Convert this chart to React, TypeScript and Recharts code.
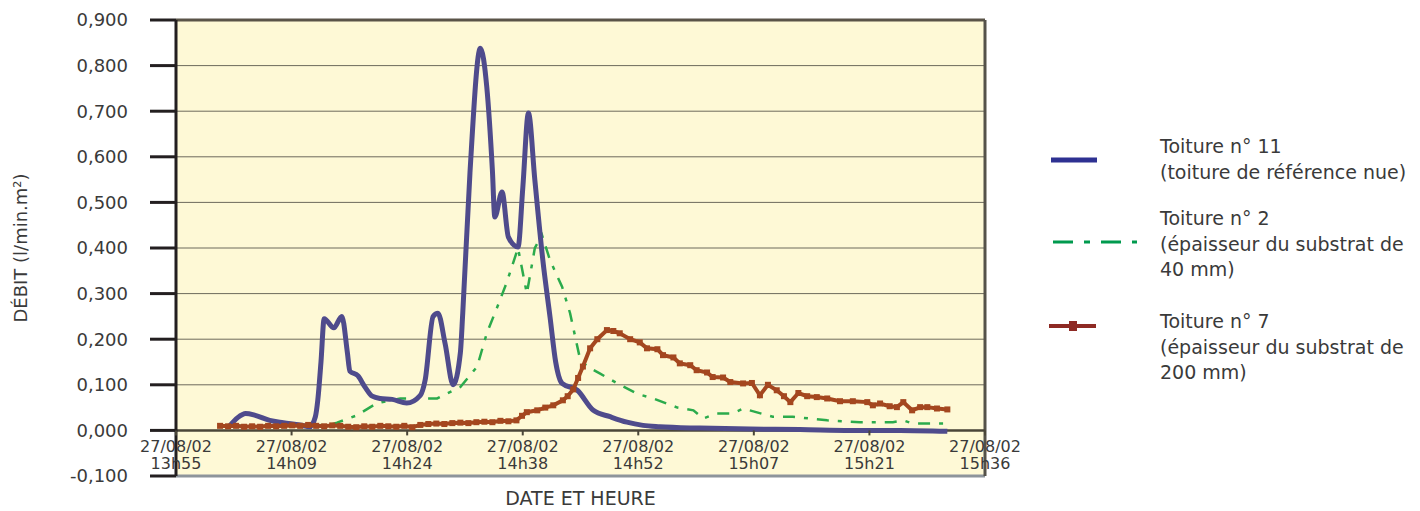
import { LineChart, Line, XAxis, YAxis, CartesianGrid, ReferenceLine } from 'recharts';

// minutes after 13h55
const BLUE_T = [6.7, 7.7, 8.7, 9.9, 11.7, 13.4, 15.5, 16.7, 17.4, 17.7, 18.1, 18.5, 19.7, 20.7, 21.4, 21.7, 22.7, 23.6, 24.5, 25.5, 27.0, 28.8, 30.5, 31.1, 32.1, 32.7, 33.6, 34.6, 35.5, 35.8, 36.7, 38.0, 38.8, 39.5, 39.8, 40.7, 41.5, 42.7, 43.3, 44.0, 44.8, 45.8, 46.7, 47.4, 48.2, 50.1, 52.1, 54.2, 56.3, 58.3, 60.4, 65.4, 71.7, 77.9, 84.2, 90.4, 96.3];
const BLUE_V = [0.010, 0.028, 0.037, 0.033, 0.022, 0.017, 0.012, 0.008, 0.030, 0.066, 0.150, 0.245, 0.225, 0.250, 0.170, 0.130, 0.120, 0.095, 0.075, 0.070, 0.068, 0.060, 0.077, 0.110, 0.250, 0.257, 0.190, 0.100, 0.170, 0.257, 0.565, 0.838, 0.753, 0.570, 0.468, 0.523, 0.424, 0.402, 0.533, 0.696, 0.549, 0.373, 0.248, 0.150, 0.103, 0.088, 0.044, 0.030, 0.018, 0.011, 0.008, 0.005, 0.003, 0.002, 0.000, 0.000, -0.002];

const GREEN_T = [6.7, 13.0, 19.2, 20.1, 22.6, 25.1, 28.0, 32.6, 35.5, 37.6, 38.8, 40.1, 41.3, 42.7, 43.8, 44.8, 45.7, 46.7, 48.2, 49.2, 50.4, 51.3, 52.9, 55.1, 57.6, 59.6, 62.6, 64.6, 65.8, 67.5, 69.5, 70.8, 74.5, 77.0, 81.3, 85.4, 89.5, 90.8, 92.0, 96.3];
const GREEN_V = [0.010, 0.010, 0.012, 0.017, 0.033, 0.060, 0.070, 0.070, 0.095, 0.140, 0.213, 0.270, 0.325, 0.400, 0.300, 0.400, 0.428, 0.373, 0.315, 0.257, 0.160, 0.140, 0.125, 0.103, 0.080, 0.070, 0.050, 0.044, 0.026, 0.037, 0.037, 0.048, 0.030, 0.030, 0.022, 0.018, 0.018, 0.022, 0.015, 0.015];

const BROWN_T = [5.5, 6.5, 7.5, 8.5, 9.5, 10.5, 11.5, 12.5, 13.5, 14.5, 15.5, 16.5, 17.5, 18.5, 19.5, 20.5, 21.5, 22.5, 23.5, 24.5, 25.5, 26.5, 27.5, 28.5, 29.5, 30.5, 31.5, 32.5, 33.5, 34.5, 35.5, 36.5, 37.5, 38.5, 39.5, 40.5, 41.5, 42.5, 43.2, 43.8, 45.1, 46.1, 47.1, 48.3, 48.9, 49.6, 50.2, 50.8, 51.7, 52.6, 53.8, 54.6, 55.4, 56.7, 57.9, 58.8, 60.1, 60.8, 62.1, 62.9, 64.2, 65.0, 66.3, 67.0, 68.3, 69.2, 70.8, 71.9, 72.9, 73.9, 75.0, 75.9, 76.7, 77.7, 78.8, 80.0, 81.3, 82.9, 84.5, 86.3, 87.0, 87.9, 89.1, 90.0, 90.8, 91.9, 92.9, 93.8, 95.0, 96.3];
const BROWN_V = [0.010, 0.009, 0.010, 0.008, 0.009, 0.008, 0.010, 0.009, 0.010, 0.011, 0.010, 0.012, 0.010, 0.009, 0.011, 0.010, 0.008, 0.007, 0.009, 0.008, 0.010, 0.009, 0.008, 0.010, 0.007, 0.012, 0.014, 0.015, 0.014, 0.016, 0.017, 0.016, 0.018, 0.019, 0.018, 0.021, 0.020, 0.022, 0.032, 0.040, 0.044, 0.050, 0.055, 0.066, 0.075, 0.090, 0.115, 0.140, 0.180, 0.200, 0.220, 0.218, 0.213, 0.200, 0.193, 0.180, 0.178, 0.165, 0.160, 0.147, 0.143, 0.132, 0.127, 0.117, 0.116, 0.106, 0.103, 0.104, 0.077, 0.100, 0.088, 0.075, 0.062, 0.082, 0.075, 0.073, 0.070, 0.064, 0.064, 0.062, 0.055, 0.059, 0.053, 0.051, 0.062, 0.044, 0.051, 0.051, 0.048, 0.046];

const X_TICKS = [0, 14.43, 28.86, 43.29, 57.71, 72.14, 86.57, 101];
const X_TICK_LABELS = [
  ['27/08/02', '13h55'],
  ['27/08/02', '14h09'],
  ['27/08/02', '14h24'],
  ['27/08/02', '14h38'],
  ['27/08/02', '14h52'],
  ['27/08/02', '15h07'],
  ['27/08/02', '15h21'],
  ['27/08/02', '15h36'],
];
const Y_TICKS = [-0.1, 0, 0.1, 0.2, 0.3, 0.4, 0.5, 0.6, 0.7, 0.8, 0.9];

const blueData = BLUE_T.map((t, i) => ({ t, v: BLUE_V[i] }));
const greenData = GREEN_T.map((t, i) => ({ t, v: GREEN_V[i] }));
const brownData = BROWN_T.map((t, i) => ({ t, v: BROWN_V[i] }));

const FONT = '"DejaVu Sans", sans-serif';
const TEXT = '#3a3a3a';

// layout
const W = 1420;
const H = 511;
const PLOT_TOP = 20;
const PLOT_LEFT = 176;
const PLOT_RIGHT = 985;
const X_AXIS_H = 35;
const PLOT_H = H - X_AXIS_H - PLOT_TOP;
const ZERO_Y = PLOT_TOP + PLOT_H * (0.9 / 1.0);

const XTick = (props: any) => {
  const { x, index } = props;
  const lab = X_TICK_LABELS[index] || ['', ''];
  return (
    <g>
      <line x1={x} x2={x} y1={ZERO_Y} y2={ZERO_Y + 5} stroke="#4a4638" strokeWidth={2} />
      <text x={x} y={ZERO_Y + 22} textAnchor="middle" fontFamily={FONT} fontSize={16} fill={TEXT}>
        <tspan x={x}>{lab[0]}</tspan>
        <tspan x={x} dy={17}>{lab[1]}</tspan>
      </text>
    </g>
  );
};

const SquareDot = (props: any) => {
  const { cx, cy, index } = props;
  if (cx == null || cy == null) return <g key={index} />;
  return <rect key={index} x={cx - 3} y={cy - 3} width={6} height={6} fill="#a4471f" />;
};

function LegendRow({ top, sample, lines }: { top: number; sample: any; lines: string[] }) {
  return (
    <div style={{ position: 'absolute', left: 0, top, width: W }}>
      <svg style={{ position: 'absolute', left: 1045, top: 0 }} width={100} height={26 * lines.length}>
        {sample}
      </svg>
      <div
        style={{
          position: 'absolute',
          left: 1160,
          top: 0,
          fontFamily: FONT,
          fontSize: 19,
          lineHeight: '25.5px',
          color: TEXT,
          whiteSpace: 'nowrap',
        }}
      >
        {lines.map((l) => (
          <div key={l}>{l}</div>
        ))}
      </div>
    </div>
  );
}

export default function App() {
  return (
    <div style={{ position: 'absolute', left: 0, top: 0, width: W, height: H, background: '#fff' }}>
      <LineChart
        width={W}
        height={H}
        margin={{ top: PLOT_TOP, right: W - PLOT_RIGHT, bottom: 0, left: 0 }}
      >
        <CartesianGrid
          horizontal
          vertical={false}
          stroke="#6d6a5c"
          fill="#fef9d6"
          fillOpacity={1}
        />
        <XAxis
          type="number"
          dataKey="t"
          domain={[0, 101]}
          ticks={X_TICKS}
          interval={0}
          height={X_AXIS_H}
          axisLine={false}
          tickLine={false}
          tick={<XTick />}
          allowDataOverflow
          label={{
            content: (p: any) => {
              const vb = p.viewBox || {};
              return (
                <text
                  x={vb.x + vb.width / 2}
                  y={505}
                  textAnchor="middle"
                  fontFamily={FONT}
                  fontSize={19}
                  fill={TEXT}
                >
                  DATE ET HEURE
                </text>
              );
            },
          }}
        />
        <YAxis
          type="number"
          domain={[-0.1, 0.9]}
          ticks={Y_TICKS}
          interval={0}
          width={PLOT_LEFT}
          tickSize={26}
          tickMargin={22}
          axisLine={{ stroke: '#231f20', strokeWidth: 3 }}
          tickLine={{ stroke: '#231f20', strokeWidth: 3 }}
          tick={{ fontFamily: FONT, fontSize: 18, fill: TEXT }}
          tickFormatter={(v: number) => v.toFixed(3).replace('.', ',')}
          allowDataOverflow
          label={{
            content: (p: any) => {
              const vb = p.viewBox || {};
              const cy = vb.y + vb.height / 2;
              return (
                <text
                  x={27}
                  y={cy}
                  transform={`rotate(-90, 27, ${cy})`}
                  textAnchor="middle"
                  fontFamily={FONT}
                  fontSize={18}
                  fill={TEXT}
                >
                  DÉBIT (l/min.m²)
                </text>
              );
            },
          }}
        />
        <ReferenceLine y={0.9} stroke="#5a5448" strokeWidth={3} />
        <ReferenceLine y={-0.1} stroke="#8d949b" strokeWidth={3} />
        <ReferenceLine x={101} stroke="#55524a" strokeWidth={3} />
        <ReferenceLine y={0} stroke="#4a4638" strokeWidth={2.5} />
        <Line
          data={greenData}
          dataKey="v"
          type="linear"
          stroke="#2bab4c"
          strokeWidth={2.5}
          strokeDasharray="12 9 4 9"
          dot={false}
          isAnimationActive={false}
        />
        <Line
          data={blueData}
          dataKey="v"
          type="monotone"
          stroke="#4f4b8c"
          strokeWidth={5}
          dot={false}
          isAnimationActive={false}
        />
        <Line
          data={brownData}
          dataKey="v"
          type="linear"
          stroke="#a4471f"
          strokeWidth={4}
          dot={<SquareDot />}
          isAnimationActive={false}
        />
      </LineChart>

      <LegendRow
        top={134}
        lines={['Toiture n° 11', '(toiture de référence nue)']}
        sample={<line x1={6} x2={52} y1={26} y2={26} stroke="#2e3192" strokeWidth={5} />}
      />
      <LegendRow
        top={206}
        lines={['Toiture n° 2', '(épaisseur du substrat de', '40 mm)']}
        sample={
          <line
            x1={8}
            x2={92}
            y1={36}
            y2={36}
            stroke="#009a4e"
            strokeWidth={3}
            strokeDasharray="20 11 6 11"
          />
        }
      />
      <LegendRow
        top={309}
        lines={['Toiture n° 7', '(épaisseur du substrat de', '200 mm)']}
        sample={
          <g>
            <line x1={4} x2={51} y1={17} y2={17} stroke="#8e2a24" strokeWidth={4} />
            <rect x={24} y={12} width={8} height={10} fill="#8e2a24" />
          </g>
        }
      />
    </div>
  );
}
